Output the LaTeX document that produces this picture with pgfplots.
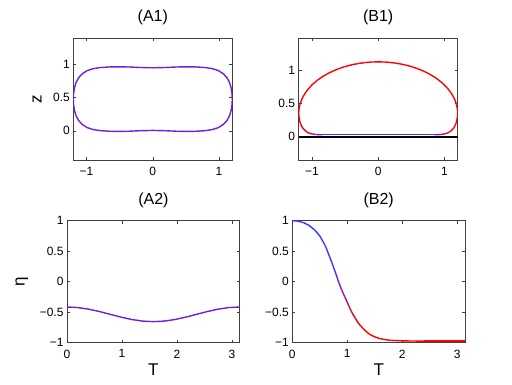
\documentclass[border=0pt]{standalone}
\usepackage{fontspec}
\setmainfont{Liberation Sans}
\usepackage{pgfplots}
\pgfplotsset{compat=1.18}
\definecolor{lilac}{rgb}{0.44,0.12,0.86}
\pgfplotsset{
  colormap={rb}{rgb=(1,0,0) rgb=(0.55,0.08,0.80) rgb=(0.22,0.22,1)},
  every axis/.append style={
    scale only axis,
    axis line style={black!75, line width=0.6pt},
    tick style={black!75, line width=0.5pt},
    tick align=inside, xtick pos=both, ytick pos=both,
    major tick length=3pt,
    tick label style={font=\fontsize{12}{14}\selectfont},
    xticklabel style={yshift=-3.5pt},
    title style={font=\fontsize{16}{18}\selectfont, at={(axis description cs:0.5,1)}, anchor=center, yshift=14.5pt},
    label style={font=\fontsize{17}{19}\selectfont},
    xlabel style={at={(axis description cs:0.5,0)}, anchor=center, yshift=-27pt},
  },
}
\pgfplotstableread{
x y
1.200 0.478
1.196 0.560
1.183 0.645
1.158 0.730
1.120 0.800
1.065 0.860
0.990 0.908
0.900 0.937
0.790 0.954
0.650 0.963
0.500 0.965
0.350 0.962
0.200 0.955
0.000 0.950
-0.200 0.955
-0.350 0.962
-0.500 0.965
-0.650 0.963
-0.790 0.954
-0.900 0.937
-0.990 0.908
-1.065 0.860
-1.120 0.800
-1.158 0.730
-1.183 0.645
-1.196 0.560
-1.200 0.478
-1.196 0.396
-1.183 0.311
-1.158 0.226
-1.120 0.156
-1.065 0.096
-0.990 0.048
-0.900 0.019
-0.790 0.002
-0.650 -0.007
-0.500 -0.009
-0.350 -0.006
-0.200 0.001
0.000 0.006
0.200 0.001
0.350 -0.006
0.500 -0.009
0.650 -0.007
0.790 0.002
0.900 0.019
0.990 0.048
1.065 0.096
1.120 0.156
1.158 0.226
1.183 0.311
1.196 0.396
1.200 0.478
}\shapeA
\pgfplotstableread{
x y c
-0.95 0.035 0.45
-0.85 0.030 0.8
-0.70 0.030 1
0.00 0.030 1
0.70 0.030 1
0.85 0.030 0.8
0.95 0.035 0.45
1.03 0.050 0.2
1.09 0.080 0
1.14 0.130 0
1.175 0.200 0
1.193 0.280 0
1.200 0.350 0
1.195 0.418 0
1.182 0.485 0
1.159 0.552 0
1.128 0.617 0
1.088 0.680 0
1.039 0.740 0
0.983 0.798 0
0.919 0.851 0
0.849 0.901 0
0.771 0.947 0
0.688 0.989 0
0.600 1.025 0
0.507 1.057 0
0.410 1.083 0
0.311 1.103 0
0.208 1.118 0
0.105 1.127 0
0.000 1.130 0
-0.105 1.127 0
-0.208 1.118 0
-0.311 1.103 0
-0.410 1.083 0
-0.507 1.057 0
-0.600 1.025 0
-0.688 0.989 0
-0.771 0.947 0
-0.849 0.901 0
-0.919 0.851 0
-0.983 0.798 0
-1.039 0.740 0
-1.088 0.680 0
-1.128 0.617 0
-1.159 0.552 0
-1.182 0.485 0
-1.195 0.418 0
-1.200 0.350 0
-1.193 0.280 0
-1.175 0.200 0
-1.14 0.130 0
-1.09 0.080 0
-1.03 0.050 0.2
-0.95 0.035 0.45
}\shapeB
\pgfplotstableread{
T eta
0.000 -0.415
0.196 -0.424
0.393 -0.450
0.589 -0.489
0.785 -0.535
0.982 -0.581
1.178 -0.620
1.374 -0.646
1.571 -0.655
1.767 -0.646
1.963 -0.620
2.160 -0.581
2.356 -0.535
2.553 -0.489
2.749 -0.450
2.945 -0.424
3.142 -0.415
}\etaA
\pgfplotstableread{
T eta c
0.00 1.000 1
0.10 0.993 1
0.20 0.970 1
0.30 0.925 1
0.40 0.855 1
0.50 0.750 1
0.60 0.590 1
0.70 0.360 1
0.75 0.235 0.93
0.80 0.110 0.79
0.84 0.000 0.67
0.90 -0.140 0.51
0.95 -0.240 0.40
1.00 -0.340 0.29
1.08 -0.500 0.11
1.20 -0.680 0
1.30 -0.780 0
1.40 -0.860 0
1.50 -0.905 0
1.60 -0.935 0
1.70 -0.952 0
1.80 -0.962 0
2.00 -0.970 0
2.40 -0.975 0
3.1416 -0.975 0
}\etaB
\begin{document}
\begin{tikzpicture}
\path[use as bounding box] (0,0) rectangle (512pt,385pt);

% (A1)
\begin{axis}[at={(73.3pt,346.7pt)}, anchor=north west,
  width=159pt, height=121.7pt,
  xmin=-1.2, xmax=1.2, ymin=-0.44, ymax=1.395,
  xtick={-1,0,1}, xticklabels={−1,0,1},
  ytick={0,0.5,1}, yticklabels={0,0.5,1},
  title={(A1)}, ylabel={z},
  ylabel style={at={(axis description cs:-0.228,0.5)}, anchor=center}]
\addplot[lilac, line width=1.4pt, line join=round] table[x=x,y=y] {\shapeA};
\end{axis}

% (B1)
\begin{axis}[at={(298.7pt,346.7pt)}, anchor=north west,
  width=159pt, height=121.7pt,
  xmin=-1.2, xmax=1.2, ymin=-0.35, ymax=1.485,
  xtick={-1,0,1}, xticklabels={−1,0,1},
  ytick={0,0.5,1}, yticklabels={0,0.5,1},
  title={(B1)}, colormap name=rb, point meta min=0, point meta max=1]
\addplot[black, line width=1.8pt] coordinates {(-1.2,0) (1.2,0)};
\addplot[mesh, point meta=explicit, line width=1.4pt, line join=round] table[x=x,y=y,meta=c] {\shapeB};
\end{axis}

% (A2)
\begin{axis}[at={(67pt,164.3pt)}, anchor=north west,
  width=172.8pt, height=122pt,
  xmin=0, xmax=3.1416, ymin=-1, ymax=1,
  xtick={0,1,2,3}, xticklabels={0,1,2,3},
  ytick={-1,-0.5,0,0.5,1}, yticklabels={−1,−0.5,0,0.5,1},
  title={(A2)}, xlabel={T}, ylabel={η},
  ylabel style={at={(axis description cs:-0.262,0.5)}, anchor=center}]
\addplot[lilac, line width=1.4pt] table[x=T,y=eta] {\etaA};
\end{axis}

% (B2)
\begin{axis}[at={(292.3pt,164.3pt)}, anchor=north west,
  width=172.8pt, height=122pt,
  xmin=0, xmax=3.1416, ymin=-1, ymax=1,
  xtick={0,1,2,3}, xticklabels={0,1,2,3},
  ytick={-1,-0.5,0,0.5,1}, yticklabels={−1,−0.5,0,0.5,1},
  title={(B2)}, xlabel={T}, colormap name=rb, point meta min=0, point meta max=1]
\addplot[mesh, point meta=explicit, line width=1.4pt] table[x=T,y=eta,meta=c] {\etaB};
\end{axis}
\end{tikzpicture}
\end{document}
